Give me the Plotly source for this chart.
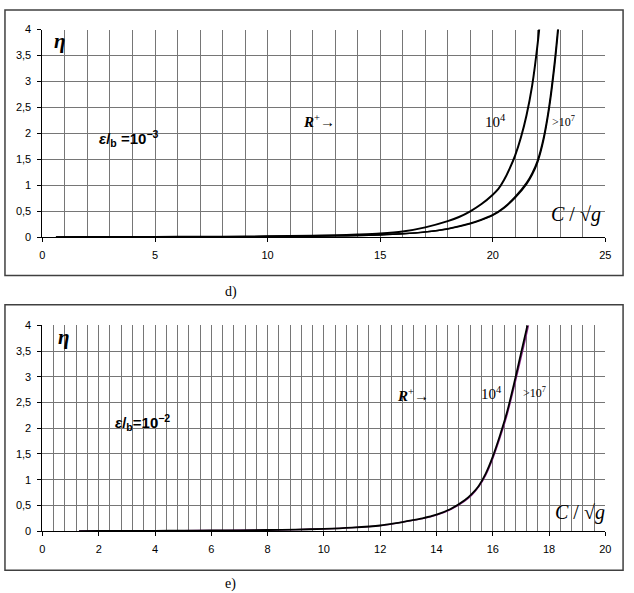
import plotly.graph_objects as go

# ---------------- data: chart d) (eps/b = 1e-3) ----------------
d_x_1e4 = [0.6, 2, 4, 6, 8, 10, 12, 13, 14, 15, 16, 17, 18, 18.5, 19, 19.5, 20, 20.25, 20.5, 20.75, 21, 21.25, 21.5, 21.75, 22, 22.15]
d_y_1e4 = [0.001, 0.002, 0.004, 0.007, 0.011, 0.017, 0.028, 0.038, 0.052, 0.072, 0.11, 0.19, 0.31, 0.39, 0.5, 0.64, 0.82, 0.93, 1.1, 1.32, 1.58, 1.92, 2.35, 2.92, 3.75, 4.4]

d_x_1e7 = [0.6, 2, 4, 6, 8, 10, 12, 13, 14, 15, 16, 17, 18, 19, 19.5, 20, 20.5, 21, 21.5, 21.75, 22, 22.25, 22.5, 22.75, 23.0]
d_y_1e7 = [0.001, 0.002, 0.003, 0.005, 0.008, 0.012, 0.02, 0.026, 0.034, 0.045, 0.065, 0.1, 0.16, 0.26, 0.33, 0.42, 0.56, 0.76, 1.02, 1.2, 1.45, 1.85, 2.45, 3.3, 4.4]
d_y_1e8 = [0.001, 0.002, 0.003, 0.005, 0.008, 0.012, 0.021, 0.027, 0.035, 0.046, 0.067, 0.103, 0.165, 0.268, 0.34, 0.433, 0.577, 0.783, 1.05, 1.236, 1.494, 1.906, 2.524, 3.4, 4.53]

# ---------------- data: chart e) (eps/b = 1e-2) ----------------
e_x = [1.3, 2, 3, 4, 5, 6, 7, 8, 9, 10, 11, 12, 12.5, 13, 13.5, 14, 14.5, 15, 15.25, 15.5, 15.75, 16, 16.25, 16.5, 16.75, 17, 17.25, 17.4]
e_y_1e4 = [0.002, 0.003, 0.005, 0.007, 0.01, 0.013, 0.017, 0.022, 0.03, 0.045, 0.07, 0.11, 0.15, 0.2, 0.25, 0.32, 0.43, 0.6, 0.72, 0.88, 1.12, 1.45, 1.85, 2.3, 2.85, 3.45, 4.05, 4.5]
e_y_1e7 = [0.002, 0.003, 0.005, 0.007, 0.01, 0.013, 0.017, 0.022, 0.03, 0.044, 0.068, 0.107, 0.146, 0.195, 0.244, 0.312, 0.42, 0.585, 0.7, 0.86, 1.09, 1.41, 1.8, 2.24, 2.78, 3.36, 3.95, 4.4]

# tick labels (decimal comma)
y_tickvals = [0, 0.5, 1, 1.5, 2, 2.5, 3, 3.5, 4]
y_ticktext = ["0", "0,5", "1", "1,5", "2", "2,5", "3", "3,5", "4"]
d_xticks = [0, 5, 10, 15, 20, 25]
e_xticks = [0, 2, 4, 6, 8, 10, 12, 14, 16, 18, 20]

W, H = 634, 593
def px(x):
    return x / W
def py(y):
    return 1 - y / H

fig = go.Figure()

def add_line(x, y, xa, ya, color, width):
    fig.add_trace(go.Scatter(x=x, y=y, mode="lines", xaxis=xa, yaxis=ya,
                             line=dict(color=color, width=width, shape="spline", smoothing=0.8),
                             showlegend=False, hoverinfo="skip"))

add_line(d_x_1e4, d_y_1e4, "x", "y", "black", 2)
add_line(d_x_1e7, d_y_1e8, "x", "y", "black", 1.5)
add_line(d_x_1e7, d_y_1e7, "x", "y", "black", 1.5)
add_line(e_x, e_y_1e7, "x2", "y2", "#8a2a8a", 1.4)
add_line(e_x, e_y_1e4, "x2", "y2", "black", 1.8)

grid = "#767676"
tickfont = dict(family="Liberation Sans, Arial", size=11, color="black")

common_x = dict(showline=True, linecolor="black", linewidth=1, ticks="outside", ticklen=4,
                tickcolor="black", showgrid=True, gridcolor=grid, gridwidth=1, zeroline=False,
                tickfont=tickfont, ticklabelstandoff=4)
common_y = dict(showline=True, linecolor="black", linewidth=1, ticks="outside", ticklen=4,
                tickcolor="black", showgrid=True, gridcolor=grid, gridwidth=1, zeroline=False,
                tickfont=tickfont, tickvals=y_tickvals, ticktext=y_ticktext, range=[0, 4],
                ticklabelstandoff=4)

fig.update_layout(
    width=W, height=H, margin=dict(l=0, r=0, t=0, b=0),
    paper_bgcolor="white", plot_bgcolor="white",
    xaxis=dict(common_x, domain=[px(40), px(611)], range=[0, 25], tickvals=d_xticks,
               anchor="y", minor=dict(dtick=1, tick0=0, showgrid=True, gridcolor=grid, gridwidth=1)),
    yaxis=dict(common_y, domain=[py(236), py(24)], anchor="x"),
    xaxis2=dict(common_x, domain=[px(40), px(611)], range=[0, 20], tickvals=e_xticks,
                anchor="y2", minor=dict(dtick=0.4, tick0=0, showgrid=True, gridcolor=grid, gridwidth=1)),
    yaxis2=dict(common_y, domain=[py(536), py(326)], anchor="x2"),
)

# outer frames
for (y0, y1) in [(275, 4), (576, 305)]:
    fig.add_shape(type="rect", xref="paper", yref="paper", x0=px(2), x1=px(629),
                  y0=py(y0), y1=py(y1), line=dict(color="#404040", width=1.5), layer="below")

serif = "Liberation Serif, Times New Roman"
sans_b = "Liberation Sans, Arial"

def ann(x, y, text, xa, ya, size, family, xanchor="center"):
    fig.add_annotation(x=x, y=y, xref=xa, yref=ya, text=text, showarrow=False,
                       font=dict(family=family, size=size, color="black"),
                       xanchor=xanchor, yanchor="middle")

for xa, ya, xe, ye, xr, yr, x4, x7, y47, xc, yc in [
    ("x", "y", 0.8, 3.78, 12.3, 2.23, 20.1, 23.16, 2.23, 23.7, 0.43),
    ("x2", "y2", 0.75, 3.77, 13.15, 2.65, 15.97, 17.5, 2.69, 19.09, 0.36),
]:
    ann(xe, ye, "<b><i>η</i></b>", xa, ya, 21, serif)
    ann(xr, yr, "<b><i>R</i></b><sup>+</sup><b>→</b>", xa, ya, 15, serif)
    ann(x4, y47, "10<sup>4</sup>", xa, ya, 15, serif)
    ann(x7, y47, "&gt;10<sup>7</sup>", xa, ya, 12, serif)
    ann(xc, yc, "<i>C</i> / √<i>g</i>", xa, ya, 20, serif)

ann(3.85, 1.9, "<b><i>ε</i>/<sub>b</sub> =10<sup>−3</sup></b>", "x", "y", 15, sans_b)
ann(3.55, 2.11, "<b><i>ε</i>/<sub>b</sub>=10<sup>−2</sup></b>", "x2", "y2", 15, sans_b)

# captions
ann(px(231), py(292), "d)", "paper", "paper", 14, serif)
ann(px(231), py(590), "e)", "paper", "paper", 14, serif)

fig.write_html("out.html", post_script="document.body.style.margin='0';document.body.style.overflow='hidden';")
